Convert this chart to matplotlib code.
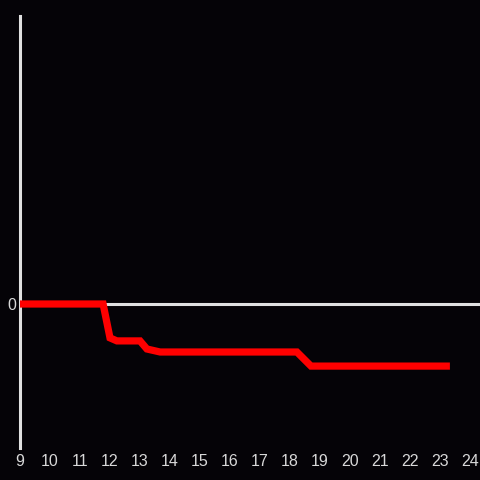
import matplotlib
matplotlib.use("Agg")
from matplotlib import pyplot as plt

# hours and values
hours = [9, 11.77, 12.0, 12.23, 13.0, 13.23, 13.67, 18.23, 18.7, 23.33]
values = [0, 0, -1.13, -1.23, -1.23, -1.5, -1.6, -1.6, -2.07, -2.07]
tickHours = list(range(9, 25))

bg = "#050307"
axisColor = "#e0e0e0"

plt.rcParams["font.family"] = ["Liberation Sans", "DejaVu Sans"]

fig = plt.figure(figsize=(4.8, 4.8), dpi=100, facecolor=bg)
ax = fig.add_axes([20 / 480, 32 / 480, 460 / 480, 432 / 480])
ax.set_facecolor(bg)

ax.set_xlim(9, 9 + 460 / 30)
ax.set_ylim(-144 / 30, 288 / 30)

ax.axhline(0, color=axisColor, lw=2.2, zorder=1)
ax.plot(hours, values, color="#ff0000", lw=5.2, solid_joinstyle="miter",
        solid_capstyle="butt", zorder=3)

for s in ["top", "right", "bottom"]:
    ax.spines[s].set_visible(False)
ax.spines["left"].set_color(axisColor)
ax.spines["left"].set_linewidth(2.2)

ax.set_xticks(tickHours)
ax.set_xticklabels([str(h) for h in tickHours])
ax.set_yticks([0])
ax.set_yticklabels(["0"])
ax.tick_params(axis="both", length=0, colors="#d8d8d8", labelsize=11.5)
ax.tick_params(axis="x", pad=4)
ax.tick_params(axis="y", pad=3)

fig.savefig("out.png", dpi=100, facecolor=bg)
